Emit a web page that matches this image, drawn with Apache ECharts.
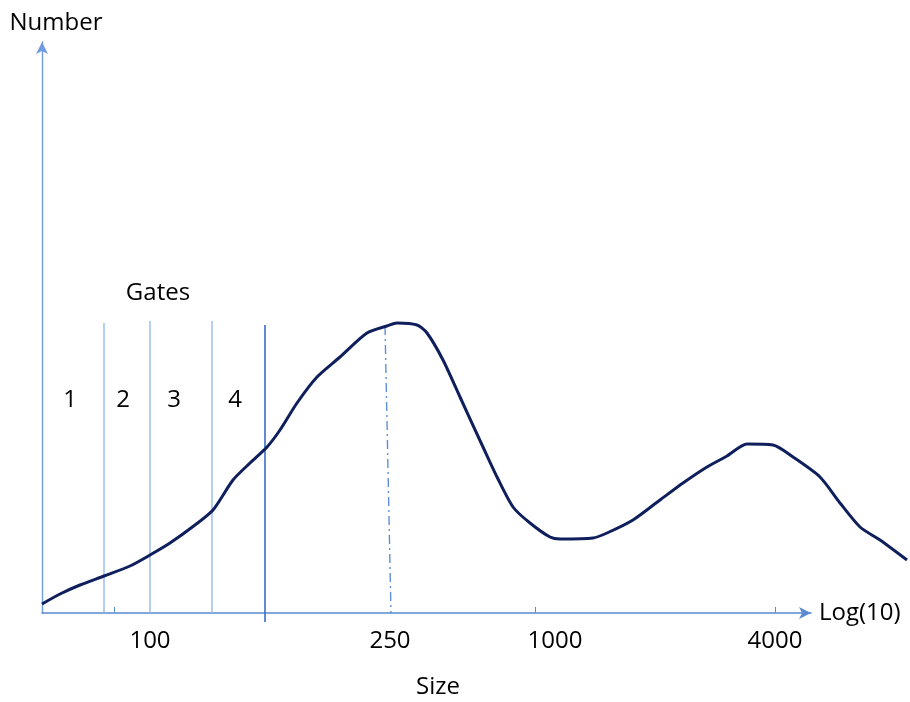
<!DOCTYPE html>
<html>
<head>
<meta charset="utf-8">
<script src="https://cdn.jsdelivr.net/npm/echarts@6/dist/echarts.min.js"></script>
<style>
  html, body { margin: 0; padding: 0; background: #fff; }
  #chart { width: 910px; height: 702px; }
</style>
</head>
<body>
<div id="chart"></div>
<script>
// size distribution curve, x/y in plot units (x from the Number axis, y from the Size axis)
var curveX = [0, 18, 38, 62, 88, 108, 128, 153, 171, 191, 208, 225, 238, 255, 275, 298, 325, 345, 355, 375, 385, 401, 418, 441, 455, 471, 488, 508, 518, 551, 565, 591, 618, 641, 665, 685, 705, 731, 751, 778, 798, 818, 838, 865];
var curveY = [9, 19, 28, 37, 47, 58, 70, 88, 103, 133, 150, 166, 183, 210, 236, 256, 280, 287, 290, 288, 280, 253, 216, 166, 136, 106, 90, 76, 74, 75, 80, 93, 113, 130, 146, 157, 169, 168, 156, 136, 110, 86, 73, 53];

// gate boundaries
var gateX = [62, 108, 170, 223];
var gateTop = [290, 292, 292, 288];
var gateBottom = [0, 0, 0, -9];
var gateNames = ['1', '2', '3', '4'];
var gateNameX = [28, 81, 132, 193];
var gateNameY = 213;

// dash-dot line down from the first peak
var peakLine = [[343, 287], [349, 0]];

// x axis labels / ticks
var tickLabelPos = [108, 348, 513, 733];
var tickLabels = ['100', '250', '1000', '4000'];
var tickPos = [72, 493, 733];

var fontFamily = 'Open Sans, Lato, sans-serif';
var fontSize = 24;
var textColor = '#000';
var axisColor = '#5a8ad0';

var chart = echarts.init(document.getElementById('chart'));

var series = [];
series.push({
    type: 'line',
    xAxisIndex: 1,
    yAxisIndex: 1,
    data: curveX.map(function (x, i) { return [x, curveY[i]]; }),
    smooth: 0.25,
    symbol: 'none',
    clip: false,
    lineStyle: { color: '#0f1f5c', width: 3 },
    z: 5
});
gateX.forEach(function (x, i) {
    series.push({
        type: 'line',
        xAxisIndex: 1,
        yAxisIndex: 1,
        data: [[x, gateBottom[i]], [x, gateTop[i]]],
        symbol: 'none',
        clip: false,
        lineStyle: { color: i === 3 ? '#3a6cc9' : '#8fb4e6', width: i === 3 ? 1.6 : 1.3 },
        z: 3
    });
});
series.push({
    type: 'line',
    xAxisIndex: 1,
    yAxisIndex: 1,
    data: peakLine,
    symbol: 'none',
    lineStyle: { color: '#5f8fd6', width: 1.4, type: [9, 4, 2, 4] },
    z: 3
});
series.push({
    type: 'scatter',
    xAxisIndex: 1,
    yAxisIndex: 1,
    symbolSize: 0,
    itemStyle: { opacity: 1 },
    data: gateNames.map(function (n, i) { return [gateNameX[i], gateNameY, n]; }).concat([[116, 320, 'Gates']]),
    label: {
        show: true,
        position: 'inside',
        formatter: function (p) { return p.data[2]; },
        color: textColor,
        opacity: 1,
        textBorderWidth: 0,
        fontSize: fontSize,
        fontFamily: fontFamily
    },
    z: 6
});

var option = {
    backgroundColor: '#fff',
    animation: false,
    grid: [
        // visible axes (x axis stops at the arrow)
        { left: 42, right: 99, top: 42, bottom: 89 },
        // data area, the curve runs past the arrow
        { left: 42, right: 2, top: 42, bottom: 89 }
    ],
    xAxis: [{
        type: 'value',
        gridIndex: 0,
        min: 0,
        max: 769,
        name: 'Log(10)',
        nameLocation: 'end',
        nameGap: 8,
        nameTextStyle: { color: textColor, fontSize: fontSize, fontFamily: fontFamily, padding: [0, 0, 4, 0] },
        splitLine: { show: false },
        axisLine: {
            show: true,
            symbol: ['none', 'arrow'],
            symbolSize: [9, 12],
            lineStyle: { color: axisColor, width: 1.6 }
        },
        axisTick: {
            show: true,
            inside: true,
            length: 6,
            customValues: tickPos,
            lineStyle: { color: axisColor }
        },
        axisLabel: {
            show: true,
            margin: 16,
            customValues: tickLabelPos,
            formatter: function (v) {
                var i = tickLabelPos.indexOf(v);
                return i >= 0 ? tickLabels[i] : '';
            },
            color: textColor,
            fontSize: fontSize,
            fontFamily: fontFamily
        }
    }, {
        type: 'value',
        gridIndex: 1,
        min: 0,
        max: 866,
        show: false
    }],
    yAxis: [{
        type: 'value',
        gridIndex: 0,
        min: 0,
        max: 571,
        name: 'Number',
        nameLocation: 'end',
        nameGap: 7,
        nameTextStyle: { color: textColor, fontSize: fontSize, fontFamily: fontFamily, padding: [0, 0, 0, 28] },
        splitLine: { show: false },
        axisLine: {
            show: true,
            symbol: ['none', 'arrow'],
            symbolSize: [9, 12],
            lineStyle: { color: '#6f9be0', width: 1.4 }
        },
        axisTick: { show: false },
        axisLabel: { show: false }
    }, {
        type: 'value',
        gridIndex: 1,
        min: 0,
        max: 571,
        show: false
    }],
    graphic: [{
        type: 'text',
        left: 416,
        top: 675,
        style: { text: 'Size', fill: textColor, fontSize: fontSize, fontFamily: fontFamily }
    }],
    series: series
};

chart.setOption(option);
</script>
</body>
</html>
